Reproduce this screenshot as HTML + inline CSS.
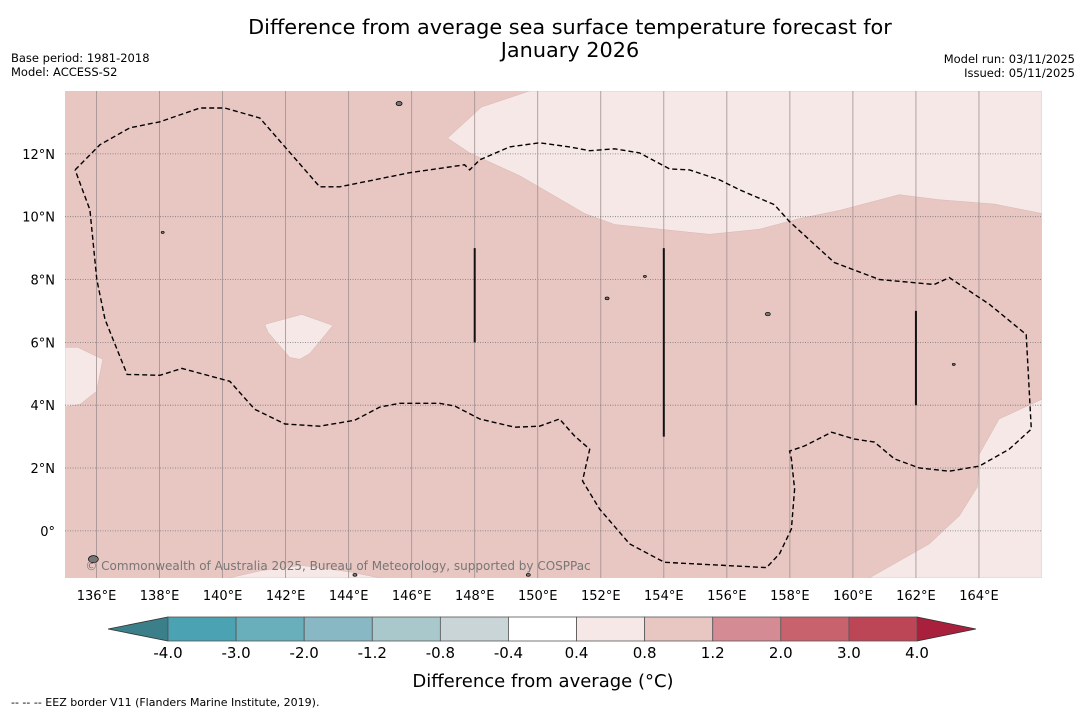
<!DOCTYPE html>
<html><head><meta charset="utf-8"><style>
body{margin:0;background:#fff;font-family:"DejaVu Sans","Liberation Sans",sans-serif;}
svg{display:block}
</style></head><body>
<svg id="chart" width="1085" height="713" xmlns="http://www.w3.org/2000/svg">
<text x="570" y="34" text-anchor="middle" font-size="20.8">Difference from average sea surface temperature forecast for</text>
<text x="570" y="57" text-anchor="middle" font-size="20.8">January 2026</text>
<text x="11" y="62" font-size="11.5">Base period: 1981-2018</text>
<text x="11" y="76" font-size="11.5">Model: ACCESS-S2</text>
<text x="1075" y="63" font-size="11.5" text-anchor="end">Model run: 03/11/2025</text>
<text x="1075" y="77" font-size="11.5" text-anchor="end">Issued: 05/11/2025</text>
<g id="map"></g>
<g id="cbar"></g>
<text x="543" y="687" text-anchor="middle" font-size="18">Difference from average (°C)</text>
<text x="11" y="706" font-size="11">--  --  -- EEZ border V11 (Flanders Marine Institute, 2019).</text>
</svg>
<script>
const lonTicks=[136,138,140,142,144,146,148,150,152,154,156,158,160,162,164];
const latTicks=[0,2,4,6,8,10,12];
const lightTop=[[149.74,14],[148.22,13.49],[147.14,12.5],[147.84,12.03],[149.43,11.3],[151.49,10.1],[152.44,9.75],[155.45,9.44],[157.04,9.6],[158.3,9.94],[159.57,10.2],[161.47,10.7],[162.74,10.54],[164.49,10.4],[166,10.1],[166,14]];
const lightBR=[[166,4.19],[164.64,3.56],[164.01,2.44],[163.95,1.4],[163.38,0.48],[162.43,-0.41],[160.52,-1.5],[166,-1.5]];
const lightLeft=[[135,5.84],[135.41,5.84],[136.2,5.46],[136.0,4.44],[135.48,4.03],[135,3.94]];
const lightPatch=[[141.34,6.57],[142.51,6.89],[143.5,6.54],[142.77,5.65],[142.45,5.46],[142.13,5.52],[141.44,6.32]];
const lightBottom=[[140.2,-1.5],[141.2,-1.27],[142.5,-1.1],[144,-1.3],[145,-1.5]];
const eez=[[135.32,11.49],[136.11,12.29],[137.06,12.83],[138.01,13.02],[139.28,13.46],[140.07,13.46],[141.18,13.14],[143.08,10.95],[143.72,10.95],[145.94,11.4],[147.68,11.65],[147.84,11.49],[148.16,11.81],[149.11,12.22],[150.06,12.35],[151.01,12.22],[151.65,12.1],[152.44,12.16],[153.23,12.03],[154.18,11.52],[154.82,11.49],[155.77,11.17],[156.4,10.86],[157.51,10.38],[157.99,9.84],[159.41,8.54],[160.84,8.0],[162.58,7.84],[163.06,8.06],[164.33,7.21],[165.5,6.25],[165.66,3.24],[164.96,2.6],[164.01,2.06],[163.06,1.9],[162.11,2.0],[161.32,2.29],[160.68,2.83],[160.05,2.92],[159.32,3.14],[158.46,2.7],[157.99,2.54],[158.05,2.29],[158.15,1.33],[158.05,0.06],[157.67,-0.73],[157.26,-1.17],[154.02,-1.0],[152.91,-0.41],[151.96,0.7],[151.42,1.59],[151.58,2.29],[151.65,2.6],[151.17,3.02],[150.69,3.56],[150.06,3.33],[149.27,3.3],[148.16,3.56],[147.37,3.97],[146.89,4.06],[145.62,4.06],[144.99,3.94],[144.19,3.52],[143.08,3.33],[141.98,3.4],[141.02,3.87],[140.23,4.76],[138.71,5.17],[138.01,4.95],[136.97,4.98],[136.27,6.73],[136.01,8.0],[135.79,10.22],[135.32,11.49]];
const segLon=[148,154,162];
const segTop=[9,9,7];
const segBot=[6,3,4];
const islands=[[145.6,13.6,3],[138.1,9.5,1.5],[157.3,6.9,2.5],[163.2,5.3,1.5],[135.9,-0.9,5],[149.7,-1.4,2],[153.4,8.1,1.5],[152.2,7.4,2],[144.2,-1.4,2]];
const cbBounds=["-4.0","-3.0","-2.0","-1.2","-0.8","-0.4","0.4","0.8","1.2","2.0","3.0","4.0"];
const cbColors=["#4aa2b2","#69aebb","#88b8c3","#a9c8cc","#c9d5d7","#ffffff","#f5e8e6","#e8c6c2","#d48b93","#c8636e","#bc4656"];
const NS='http://www.w3.org/2000/svg';
const X0=65,X1=1042,Y0=91,Y1=578;
const x=lon=>X0+(lon-135)*(X1-X0)/31;
const y=lat=>Y0+(14-lat)*(Y1-Y0)/15.5;
function mk(tag,attrs,parent){const e=document.createElementNS(NS,tag);for(const k in attrs)e.setAttribute(k,attrs[k]);parent.appendChild(e);return e;}
const map=document.getElementById('map');
const cp=mk('clipPath',{id:'clip'},map);mk('rect',{x:X0,y:Y0,width:X1-X0,height:Y1-Y0},cp);
const g=mk('g',{'clip-path':'url(#clip)'},map);
let r=mk('rect',{x:X0,y:Y0,width:X1-X0,height:Y1-Y0,fill:'#e8c6c2'},g);


const pts=a=>a.map(p=>x(p[0]).toFixed(1)+','+y(p[1]).toFixed(1)).join(' ');
[['light-region-north',lightTop],['light-region-southeast',lightBR],['light-region-west',lightLeft],['light-region-patch',lightPatch],['light-region-south',lightBottom]].forEach(([n,a])=>{
 const p=mk('polygon',{points:pts(a),fill:'#f5e8e6',stroke:'#d8b8b4','stroke-width':0.5},g);
 
 
});
lonTicks.forEach(l=>{
 const ln=mk('line',{x1:x(l),x2:x(l),y1:Y0,y2:Y1,stroke:'#a09090','stroke-width':0.8},g);
 
 
 const t=mk('text',{x:x(l),y:600,'text-anchor':'middle','font-size':13},map);t.textContent=l+'°E';
 
 
});
latTicks.forEach(l=>{
 const ln=mk('line',{x1:X0,x2:X1,y1:y(l),y2:y(l),stroke:'#777','stroke-width':0.8,'stroke-dasharray':'1,1.5'},g);
 
 
 const t=mk('text',{x:55,y:y(l)+5,'text-anchor':'end','font-size':13},map);t.textContent=l===0?'0°':l+'°N';
 
 
});
const e=mk('polyline',{points:pts(eez),fill:'none',stroke:'#000','stroke-width':1.4,'stroke-dasharray':'5,3'},g);


segLon.forEach((l,i)=>{
 const s=mk('line',{x1:x(l),x2:x(l),y1:y(segTop[i]),y2:y(segBot[i]),stroke:'#111','stroke-width':2},g);
 
 
});
islands.forEach(d=>{
 const c=mk('ellipse',{cx:x(d[0]),cy:y(d[1]),rx:d[2],ry:d[2]*0.7,fill:'#777',stroke:'#000','stroke-width':0.7},g);
 
 
});
const cr=mk('text',{x:338,y:570,'text-anchor':'middle','font-size':12,fill:'#777'},g);
cr.textContent='© Commonwealth of Australia 2025, Bureau of Meteorology, supported by COSPPac';


const cb=document.getElementById('cbar');
const CB0=168,CB1=917,CT=617,CBt=641,CM=629;
const bw=(CB1-CB0)/cbColors.length;
const la=mk('polygon',{points:`108,${CM} ${CB0},${CT} ${CB0},${CBt}`,fill:'#3a7f89',stroke:'#333','stroke-width':0.8},cb);


const ra=mk('polygon',{points:`976,${CM} ${CB1},${CT} ${CB1},${CBt}`,fill:'#a8203c',stroke:'#333','stroke-width':0.8},cb);


cbColors.forEach((c,i)=>{
 const b=mk('rect',{x:CB0+i*bw,y:CT,width:bw,height:CBt-CT,fill:c,stroke:'#555','stroke-width':0.8},cb);
 
 
});
cbBounds.forEach((s,i)=>{
 const t=mk('text',{x:CB0+i*bw,y:658,'text-anchor':'middle','font-size':15},cb);t.textContent=s;
 
 
});
</script>
</body></html>
